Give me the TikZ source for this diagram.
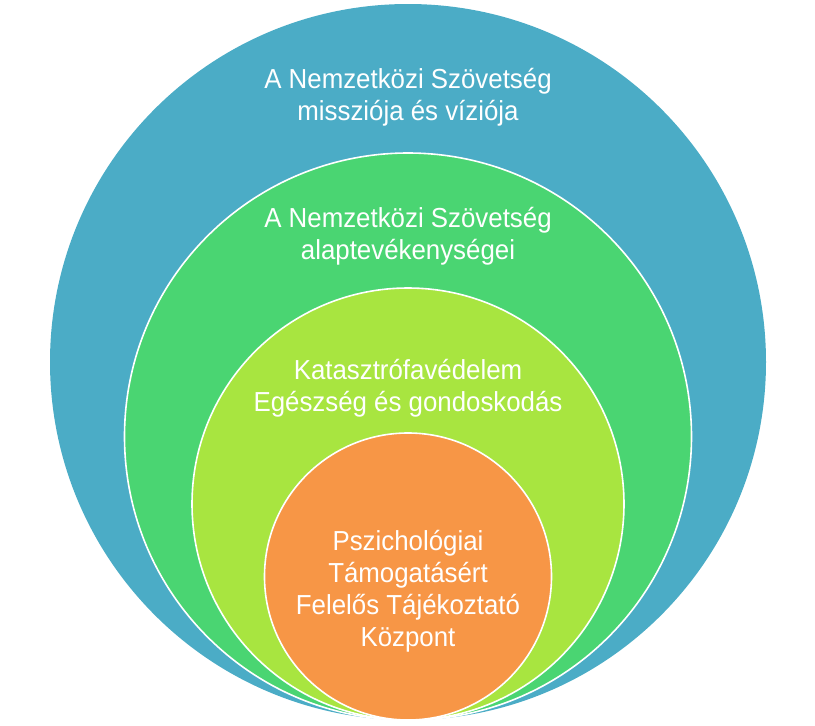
\documentclass[tikz,border=0pt]{standalone}
\usepackage{fontspec}
\setmainfont[FakeStretch=0.94]{Liberation Sans}
\definecolor{missionblue}{HTML}{4BACC6}
\definecolor{taskgreen}{HTML}{4AD572}
\definecolor{aidgreen}{HTML}{A8E540}
\definecolor{coreorange}{HTML}{F79646}
\tikzset{
  ring/.style={circle, draw=white, line width=1.6pt, inner sep=0pt},
  ringtext/.style={text=white, align=center, font=\fontsize{27.5}{32}\selectfont},
}

\begin{document}
\begin{tikzpicture}[x=1pt,y=-1pt]
            \useasboundingbox (0,0) rectangle (815,726);
            % nested circles, all touching at the bottom
            \node[ring, draw=none, fill=missionblue, minimum size=716pt] (mission) at (408,362) {};
            \node[ring, fill=taskgreen, minimum size=567pt] (tasks) at (408,436.5) {};
            \node[ring, fill=aidgreen, minimum size=432pt] (aid) at (408,504) {};
            \node[ring, fill=coreorange, minimum size=287pt] (core) at (408,576.5) {};
            % labels
            \node[ringtext] (missionlbl) at (408,97) {A Nemzetközi Szövetség\\missziója és víziója};
            \node[ringtext] (taskslbl) at (408,236) {A Nemzetközi Szövetség\\alaptevékenységei};
            \node[ringtext] (aidlbl) at (408,388) {Katasztrófavédelem\\Egészség és gondoskodás};
            \node[ringtext] (corelbl) at (408,591) {Pszichológiai\\Támogatásért\\Felelős Tájékoztató\\Központ};
\end{tikzpicture}
\end{document}
